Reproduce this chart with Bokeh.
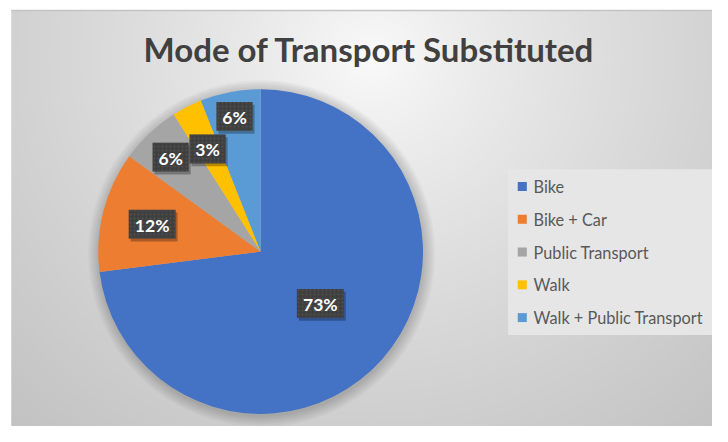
import numpy as np
from bokeh.plotting import figure
from bokeh.models import ColumnDataSource, Range1d
from bokeh.core.properties import value
from bokeh.embed import file_html
from bokeh.resources import INLINE

# ---- data ----
categories = ["Bike", "Bike + Car", "Public Transport", "Walk", "Walk + Public Transport"]
shares = [73, 12, 6, 3, 6]
labels = ["73%", "12%", "6%", "3%", "6%"]
title_text = "Mode of Transport Substituted"

# ---- style ----
colors = ["#4472C4", "#ED7D31", "#A5A5A5", "#FFC000", "#5B9BD5"]
label_r_frac = [0.49, 0.69, 0.81, 0.72, 0.86]
FONT = "Lato"
REF_W, REF_H = 728, 442          # data units = reference pixels
FIG_W, FIG_H = 712, 426
sx, sy = FIG_W / REF_W, FIG_H / REF_H
s = (sx + sy) / 2
cx, cy, R = 266, REF_H - 260.5, 166

p = figure(width=FIG_W, height=FIG_H, output_backend="svg", toolbar_location=None,
           x_axis_location=None, y_axis_location=None,
           x_range=Range1d(0, REF_W), y_range=Range1d(0, REF_H),
           min_border=0, min_border_left=0, min_border_top=0,
           min_border_right=0, min_border_bottom=0)
p.grid.visible = False
p.outline_line_color = None
p.border_fill_color = "white"
p.background_fill_color = "white"

# background radial gradient (decoration), chart area from x=11, y=10 (ref px)
x0, ytop = 11, 10
W, H = int((REF_W - x0) * sx), int((REF_H - ytop) * sy)
xs = x0 + (np.arange(W) + 0.5) / sx
ys_ref = REF_H - (np.arange(H) + 0.5) / sy   # row 0 = bottom
X, Y = np.meshgrid(xs, ys_ref)
d = np.sqrt(((X - 380) / 420.0) ** 2 + ((Y - 60) / 400.0) ** 2)
v = np.clip(251 - 46 * d ** 0.8, 192, 252).astype(np.uint32)
img = (255 << 24) | (v << 16) | (v << 8) | v
p.image_rgba(image=[img.astype(np.uint32)], x=x0, y=0, dw=REF_W - x0, dh=REF_H - ytop)
p.segment(x0=[x0], y0=[REF_H - ytop - 0.5], x1=[REF_W], y1=[REF_H - ytop - 0.5],
          line_color="#c4c4c4", line_width=1.5)

# pie shadow
for k in range(8):
    p.circle(x=cx + 1, y=cy - 2, radius=R + 1 + k * 1.5, fill_color="black",
             fill_alpha=0.022, line_color=None)

# wedges
cum = np.concatenate([[0], np.cumsum(shares)]) / 100.0
start = np.pi / 2 - 2 * np.pi * cum[1:]
end = np.pi / 2 - 2 * np.pi * cum[:-1]
mid = (start + end) / 2
src = ColumnDataSource(dict(category=categories, share=shares, start=start, end=end,
                            color=colors))
p.wedge(x=cx, y=cy, radius=R, start_angle="start", end_angle="end",
        direction="anticlock", fill_color="color", line_color=None, source=src)

# data labels
lx = cx + np.array(label_r_frac) * R * np.cos(mid)
ly = cy + np.array(label_r_frac) * R * np.sin(mid)
bw = [11 * len(t) + 15 for t in labels]
lsrc = ColumnDataSource(dict(x=lx, y=ly, xs=lx + 2, ys=ly - 3, w=bw, text=labels))
p.rect(x="xs", y="ys", width="w", height=30,
       fill_color="black", fill_alpha=0.28, line_color=None, source=lsrc)
p.rect(x="x", y="y", width="w", height=30,
       fill_color="#3f3f3f", line_color=None, hatch_pattern="dot", hatch_color="#505050",
       hatch_scale=4, hatch_weight=1, source=lsrc)
p.text(x="x", y="y", text="text", text_align="center", text_baseline="middle",
       text_font=value(FONT), text_font_style="bold", text_font_size=f"{18 * s:.1f}px",
       text_color="white", y_offset=1, source=lsrc)

# title
p.text(x=[377], y=[REF_H - 50], text=[title_text], text_align="center",
       text_baseline="middle", text_font=value(FONT), text_font_style="bold",
       text_font_size=f"{34 * s:.1f}px", text_color="#404040")

# legend (drawn from categories / colors)
p.quad(left=[519], right=[REF_W], top=[REF_H - 175], bottom=[REF_H - 347],
       fill_color="#e6e6e6", line_color=None)
leg_y = [REF_H - (193 + 34 * i) for i in range(len(categories))]
legsrc = ColumnDataSource(dict(x=[533.5] * len(categories), tx=[545] * len(categories),
                               y=leg_y, color=colors, text=categories))
p.rect(x="x", y="y", width=9.3, height=9.3, fill_color="color", line_color=None,
       source=legsrc)
p.text(x="tx", y="y", text="text", text_align="left", text_baseline="middle",
       text_font=value(FONT), text_font_size="16.3px", text_color="#595959",
       y_offset=0, source=legsrc)

open("out.html", "w").write(file_html(p, INLINE))
